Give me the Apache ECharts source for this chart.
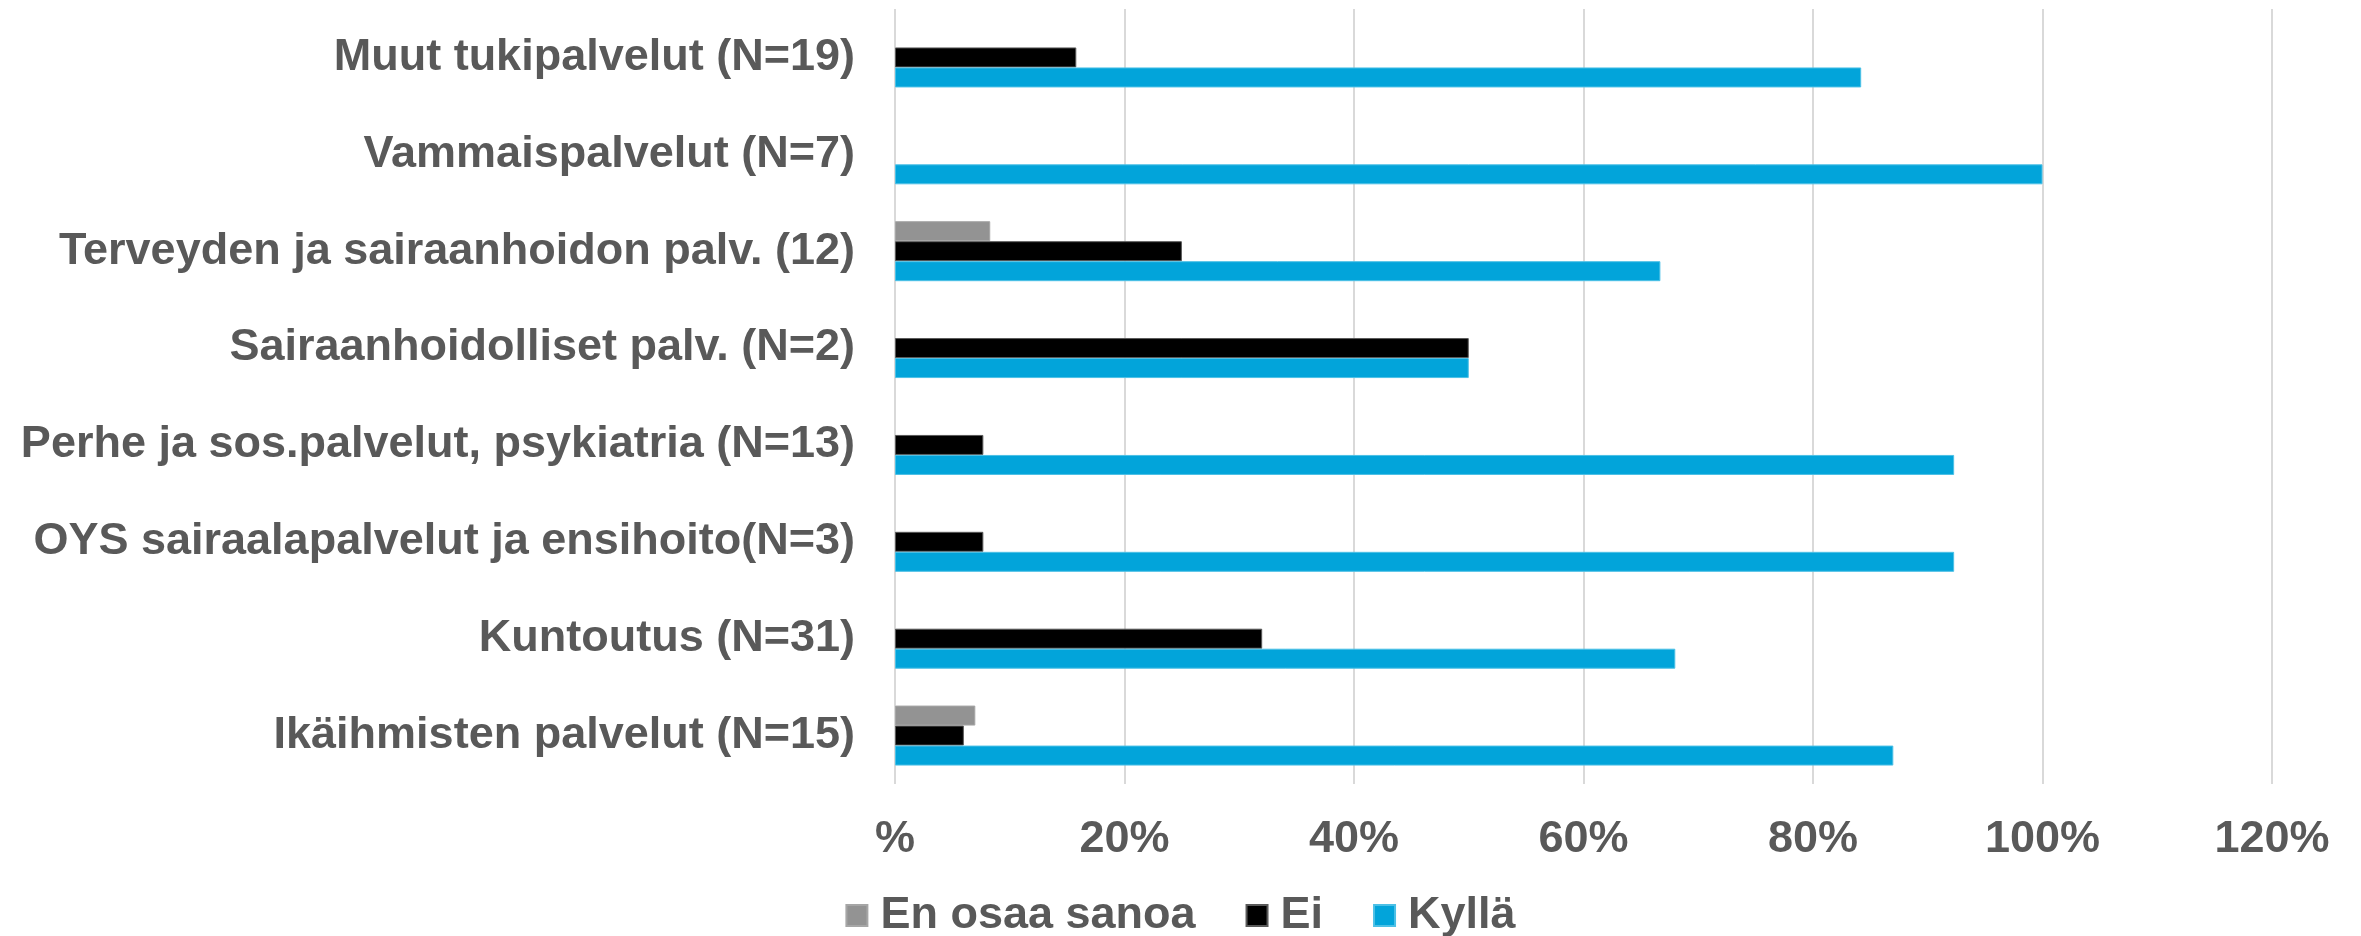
<!DOCTYPE html>
<html>
<head>
<meta charset="utf-8">
<script src="https://cdn.jsdelivr.net/npm/echarts@6/dist/echarts.min.js"></script>
<style>
  html, body { margin: 0; padding: 0; background: #fff; }
  #chart { width: 2361px; height: 936px; }
</style>
</head>
<body>
<div id="chart"></div>
<script>
// categories listed bottom -> top (category y axis starts at the bottom)
const categories = [
  'Ikäihmisten palvelut (N=15)',
  'Kuntoutus (N=31)',
  'OYS sairaalapalvelut ja ensihoito(N=3)',
  'Perhe ja sos.palvelut, psykiatria (N=13)',
  'Sairaanhoidolliset palv. (N=2)',
  'Terveyden ja sairaanhoidon palv. (12)',
  'Vammaispalvelut (N=7)',
  'Muut tukipalvelut (N=19)'
]
const enOsaaSanoa = [7, null, null, null, null, 8.3, null, null]
const ei = [6, 32, 7.7, 7.7, 50, 25, null, 15.8]
const kylla = [87, 68, 92.3, 92.3, 50, 66.7, 100, 84.2]
const xTicks = [0, 20, 40, 60, 80, 100, 120]

const FONT = "'Liberation Sans', Arial, sans-serif"
const TEXT = '#595959'

const chart = echarts.init(document.getElementById('chart'))

const barBase = {
  type: 'bar',
  barWidth: 20,
  barGap: '0%'
}

chart.setOption({
  animation: false,
  textStyle: { fontFamily: FONT },
  grid: { left: 895, right: 89, top: 9, bottom: 152 },
  legend: {
    top: 888,
    left: 'center',
    icon: 'rect',
    itemWidth: 21,
    itemHeight: 21,
    itemGap: 50,
    data: ['En osaa sanoa', 'Ei', 'Kyllä'],
    textStyle: { fontSize: 45, fontWeight: 'bold', color: TEXT, fontFamily: FONT, padding: [0, 0, 0, 8] }
  },
  xAxis: {
    type: 'value',
    min: xTicks[0],
    max: xTicks[xTicks.length - 1],
    interval: 20,
    axisLine: { show: false },
    axisTick: { show: false },
    splitLine: { show: true, lineStyle: { color: '#d9d9d9', width: 2 } },
    axisLabel: {
      margin: 33,
      fontSize: 45,
      fontWeight: 'bold',
      color: TEXT,
      fontFamily: FONT,
      formatter: v => (v === 0 ? '%' : v + '%')
    }
  },
  yAxis: {
    type: 'category',
    data: categories,
    axisLine: { show: false },
    axisTick: { show: false },
    axisLabel: {
      margin: 40,
      fontSize: 45,
      fontWeight: 'bold',
      color: TEXT,
      fontFamily: FONT
    }
  },
  series: [
    {
      ...barBase,
      name: 'En osaa sanoa',
      data: enOsaaSanoa,
      itemStyle: { color: '#939393', borderColor: '#a6a6a6', borderWidth: 1 }
    },
    {
      ...barBase,
      name: 'Ei',
      data: ei,
      itemStyle: { color: '#000000', borderColor: '#595959', borderWidth: 1 }
    },
    {
      ...barBase,
      name: 'Kyllä',
      data: kylla,
      itemStyle: { color: '#02A4DA', borderColor: '#4cc0e6', borderWidth: 1 }
    }
  ]
})
</script>
</body>
</html>
